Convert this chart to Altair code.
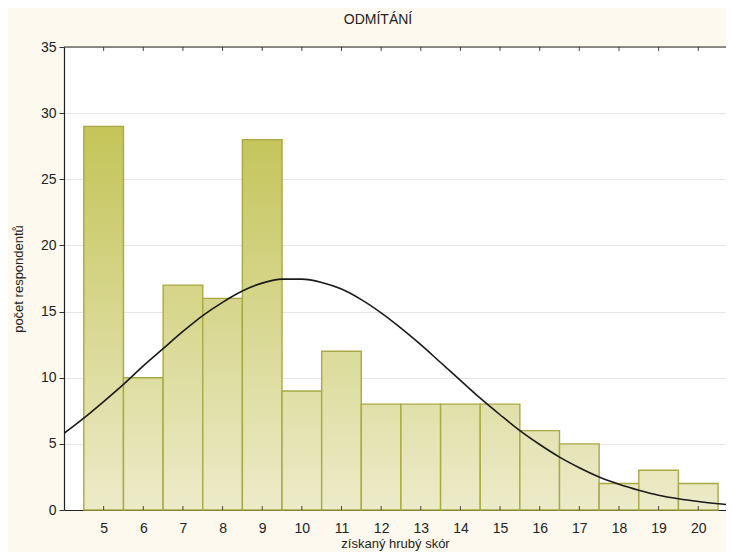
import altair as alt
import pandas as pd

# ---- data ----
scores = [5, 6, 7, 8, 9, 10, 11, 12, 13, 14, 15, 16, 17, 18, 19, 20]
counts = [29, 10, 17, 16, 28, 9, 12, 8, 8, 8, 8, 6, 5, 2, 3, 2]

curve_x = [4, 4.5, 5, 5.5, 6, 6.5, 7, 7.5, 8, 8.5, 9, 9.5, 10, 10.5, 11, 11.5,
           12, 12.5, 13, 13.5, 14, 14.5, 15, 15.5, 16, 16.5, 17, 17.5, 18, 18.5,
           19, 19.5, 20, 20.5, 21]
curve_y = [5.8, 6.95, 8.2, 9.5, 10.9, 12.2, 13.5, 14.7, 15.7, 16.55, 17.15, 17.45,
           17.45, 17.2, 16.7, 15.9, 14.9, 13.75, 12.5, 11.15, 9.8, 8.45, 7.2, 6.0,
           4.95, 4.0, 3.2, 2.5, 1.95, 1.5, 1.12, 0.85, 0.64, 0.47, 0.34]

y_ticks = [0, 5, 10, 15, 20, 25, 30, 35]

bars = pd.DataFrame({"score": scores, "count": counts})
curve = pd.DataFrame({"x": curve_x, "y": curve_y})
ticks_df = pd.DataFrame({"score": scores})
top_df = pd.DataFrame({"v": [y_ticks[-1]]})

FONT = "Liberation Sans"

xscale = alt.Scale(domain=[4, 20.7], nice=False, zero=False)
yscale = alt.Scale(domain=[0, 35], nice=False)

x_axis = alt.Axis(values=scores, ticks=False, grid=False, domainColor="#222",
                  domainWidth=1.2, labelFontSize=14, labelFont=FONT, labelColor="#222",
                  labelPadding=11, title="získaný hrubý skór", titleFont=FONT,
                  titleFontSize=13, titleFontWeight="normal", titleColor="#222",
                  titleY=33, titleBaseline="middle")
y_axis = alt.Axis(values=y_ticks, grid=True, gridColor="#e6e6e6", tickSize=5,
                  tickColor="#333", domainColor="#222", domainWidth=1.2,
                  labelFontSize=14, labelFont=FONT, labelColor="#222", labelPadding=3,
                  title="počet respondentů", titleFont=FONT, titleFontSize=13,
                  titleFontWeight="normal", titleColor="#222", titleX=-46,
                  titleBaseline="middle")

C0 = (236, 235, 201)
CT = (196, 196, 88)


def mix(t):
    r = [round(a + (b - a) * t) for a, b in zip(C0, CT)]
    return "#%02x%02x%02x" % tuple(r)


layers = []
for s, c in zip(scores, counts):
    grad = alt.Gradient(
        gradient="linear",
        stops=[alt.GradientStop(color=mix(c / 29), offset=0),
               alt.GradientStop(color=mix(0), offset=1)],
        x1=0, x2=0, y1=0, y2=1,
    )
    layers.append(
        alt.Chart(bars)
        .transform_filter(alt.datum.score == s)
        .transform_calculate(x0="datum.score - 0.5", x1="datum.score + 0.5")
        .mark_rect(fill=grad, stroke="#a9a943", strokeWidth=1.4)
        .encode(
            x=alt.X("x0:Q", scale=xscale, axis=x_axis),
            x2="x1:Q",
            y=alt.Y("count:Q", scale=yscale, axis=y_axis),
            y2=alt.Y2(datum=0),
        )
    )

line = alt.Chart(curve).mark_line(color="#1a1a1a", strokeWidth=1.6,
                                  interpolate="monotone", clip=True).encode(
    x=alt.X("x:Q", scale=xscale, axis=x_axis),
    y=alt.Y("y:Q", scale=yscale, axis=y_axis),
)

bottom_ticks = alt.Chart(ticks_df).mark_rule(color="#444", strokeWidth=1).encode(
    x=alt.X("score:Q", scale=xscale, axis=x_axis),
    y=alt.Y(datum=0, scale=yscale, axis=y_axis),
    y2=alt.Y2(datum=0.3),
)
top_ticks = alt.Chart(ticks_df).mark_rule(color="#444", strokeWidth=1).encode(
    x=alt.X("score:Q", scale=xscale, axis=x_axis),
    y=alt.Y(datum=35, scale=yscale, axis=y_axis),
    y2=alt.Y2(datum=34.7),
)
top_border = alt.Chart(top_df).mark_rule(color="#222", strokeWidth=1.2).encode(
    y=alt.Y("v:Q", scale=yscale, axis=y_axis),
)

chart = (
    alt.layer(*layers, line, bottom_ticks, top_ticks, top_border)
    .properties(
        width=662,
        height=463,
        title=alt.TitleParams("ODMÍTÁNÍ", font=FONT, fontSize=14, fontWeight="normal",
                              color="#222", anchor="middle", dx=-17, offset=13),
        autosize=alt.AutoSizeParams(type="none"),
        padding={"left": 56, "top": 39, "right": 0, "bottom": 42},
        background="#fef9ee",
    )
    .configure_view(fill="white", stroke=None)
)

chart.save("out.html", embed_options={"renderer": "svg", "actions": False})
